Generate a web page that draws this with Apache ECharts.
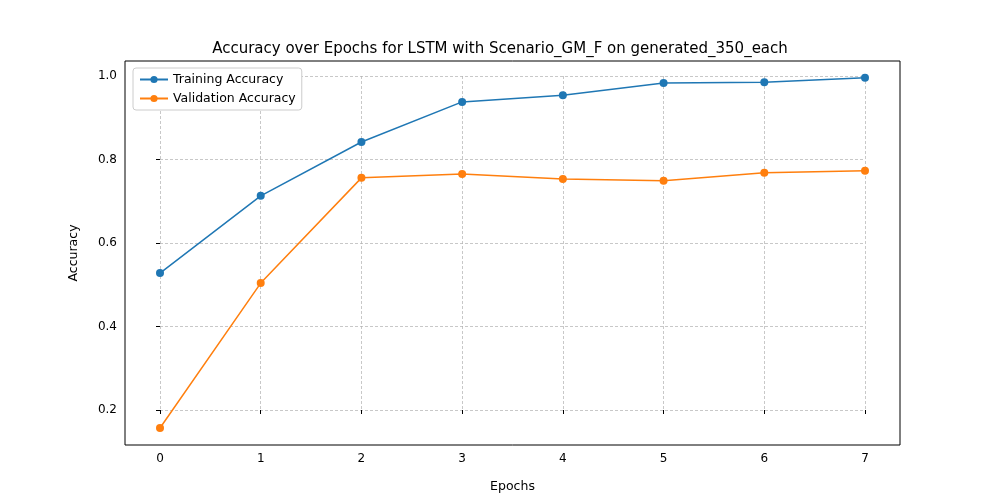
<!DOCTYPE html>
<html>
<head>
<meta charset="utf-8">
<script src="https://cdn.jsdelivr.net/npm/echarts@6/dist/echarts.min.js"></script>
<style>html,body{margin:0;padding:0;background:#fff}#chart{width:1000px;height:500px}</style>
</head>
<body>
<div id="chart"></div>
<script>
const epochs = [0, 1, 2, 3, 4, 5, 6, 7]
const trainAcc = [0.528, 0.713, 0.842, 0.938, 0.954, 0.983, 0.985, 0.996]
const valAcc = [0.157, 0.504, 0.756, 0.765, 0.753, 0.749, 0.768, 0.773]

const chart = echarts.init(document.getElementById('chart'))
const font = 'DejaVu Sans'
const split = { show: true, lineStyle: { color: '#b0b0b0', type: [3, 2], width: 0.7 } }

chart.setOption({
  animation: false,
  textStyle: { fontFamily: font },
  title: {
    text: 'Accuracy over Epochs for LSTM with Scenario_GM_F on generated_350_each',
    left: 'center', top: 37,
    textStyle: { fontFamily: font, fontSize: 15, fontWeight: 'normal', color: '#000' }
  },
  legend: {
    orient: 'vertical', left: 133, top: 68,
    itemWidth: 28, itemHeight: 9, itemGap: 6,
    padding: [5, 6, 5, 6],
    borderColor: '#ccc', borderWidth: 1, borderRadius: 3,
    backgroundColor: '#fff', z: 10,
    textStyle: { fontFamily: font, fontSize: 12.5, color: '#000' },
    data: ['Training Accuracy', 'Validation Accuracy']
  },
  grid: [
    // data grid spans the tick range 0..7 / 0.2..1.0
    { left: 160, right: 135, top: 76, bottom: 90 },
    // outer frame
    { left: 125, right: 100, top: 61, bottom: 55, show: true, borderColor: '#000', borderWidth: 1 }
  ],
  xAxis: [
    {
      type: 'value', min: 0, max: 7, interval: 1, gridIndex: 0,
      axisLine: { show: false },
      axisTick: { show: true, length: 4, lineStyle: { color: '#000' } },
      axisLabel: { color: '#000', fontSize: 12, margin: 43 },
      splitLine: split
    },
    {
      type: 'value', gridIndex: 1, min: 0, max: 1,
      name: 'Epochs', nameLocation: 'middle', nameGap: 35,
      nameTextStyle: { fontFamily: font, fontSize: 12.5, color: '#000' },
      axisLine: { show: false }, axisTick: { show: false }, axisLabel: { show: false }, splitLine: { show: false }
    }
  ],
  yAxis: [
    {
      type: 'value', min: 0.2, max: 1.0, interval: 0.2, gridIndex: 0,
      axisLine: { show: false },
      axisTick: { show: true, length: 4, lineStyle: { color: '#000' } },
      axisLabel: { color: '#000', fontSize: 12, margin: 43, formatter: v => v.toFixed(1) },
      splitLine: split
    },
    {
      type: 'value', gridIndex: 1, min: 0, max: 1,
      name: 'Accuracy', nameLocation: 'middle', nameGap: 45,
      nameTextStyle: { fontFamily: font, fontSize: 12.5, color: '#000' },
      axisLine: { show: false }, axisTick: { show: false }, axisLabel: { show: false }, splitLine: { show: false }
    }
  ],
  series: [
    {
      name: 'Training Accuracy', type: 'line', clip: false,
      data: epochs.map((e, i) => [e, trainAcc[i]]),
      symbol: 'circle', symbolSize: 8,
      itemStyle: { color: '#1f77b4' }, lineStyle: { width: 1.5, color: '#1f77b4' }
    },
    {
      name: 'Validation Accuracy', type: 'line', clip: false,
      data: epochs.map((e, i) => [e, valAcc[i]]),
      symbol: 'circle', symbolSize: 8,
      itemStyle: { color: '#ff7f0e' }, lineStyle: { width: 1.5, color: '#ff7f0e' }
    }
  ]
})
</script>
</body>
</html>
